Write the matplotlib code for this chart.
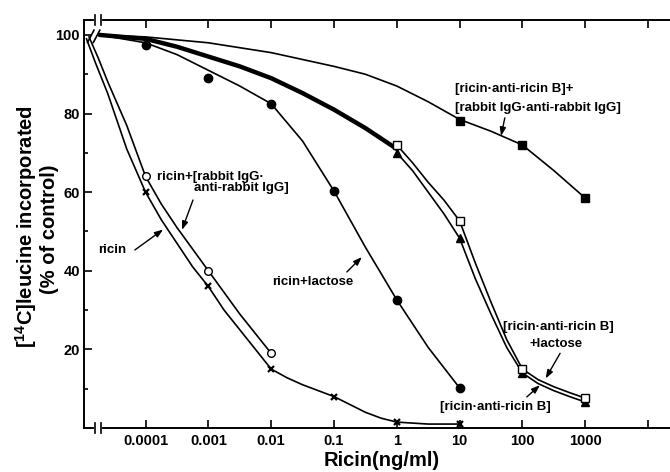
import numpy as np
import matplotlib
matplotlib.use("Agg")
import matplotlib.pyplot as plt

plt.rcParams['font.family'] = ['Liberation Sans', 'DejaVu Sans']
plt.rcParams['font.weight'] = 'bold'
plt.rcParams['mathtext.fontset'] = 'custom'
plt.rcParams['mathtext.bf'] = 'Liberation Sans:bold'
plt.rcParams['mathtext.rm'] = 'Liberation Sans:bold'

# measured points (ng/ml, % of control)
ricin_conc = [1e-4, 1e-3, 1e-2, 1e-1, 1, 10]
ricin_pct = [60, 36, 15, 8, 1.5, 1]
rabbit_conc = [1e-4, 1e-3, 1e-2]
rabbit_pct = [64, 40, 19]
lactose_conc = [1e-4, 1e-3, 1e-2, 1e-1, 1, 10]
lactose_pct = [97.5, 89, 82.5, 60.3, 32.6, 10.2]
arb_conc = [1, 10, 100, 1000]
arb_pct = [70, 48.3, 14, 6.6]          # [ricin-anti-ricin B]
arb_lac_pct = [72, 52.7, 15, 7.6]      # [ricin-anti-ricin B] + lactose
arb_rab_conc = [10, 100, 1000]
arb_rab_pct = [78, 72, 58.5]           # [ricin-anti-ricin B] + [rabbit IgG-anti-rabbit IgG]

# hand-drawn fitted curves (log10 ng/ml, %)
ricin_curve_x = [-4.94, -4.8, -4.6, -4.45, -4.3, -4.15, -4.0, -3.75, -3.5, -3.25, -3.0, -2.75, -2.5,
                 -2.25, -2.0, -1.75, -1.5, -1.25, -1.0, -0.75, -0.5, -0.25, 0.0, 0.5, 1.0]
ricin_curve_y = [99, 93, 85, 78, 71, 65.5, 60, 53, 47, 41, 36, 30, 25,
                 20, 15, 12.8, 11, 9.5, 8, 6, 4, 2.5, 1.5, 1, 1]
rabbit_curve_x = [-4.9, -4.75, -4.6, -4.45, -4.3, -4.15, -4.0, -3.75, -3.5, -3.25, -3.0, -2.75,
                  -2.5, -2.25, -2.0]
rabbit_curve_y = [99.5, 94, 88, 82.5, 77, 70.5, 64, 57, 51, 45.5, 40, 34.5, 29, 24, 19]
lactose_curve_x = [-4.73, -4.0, -3.5, -3.0, -2.5, -2.0, -1.5, -1.0, -0.5, 0.0, 0.5, 1.0]
lactose_curve_y = [100, 98, 95, 91, 87, 82.5, 73, 60.3, 46, 32.6, 20.5, 10.2]
shared_curve_x = [-4.73, -4.0, -3.5, -3.0, -2.5, -2.0, -1.5, -1.0, -0.5, 0.0]
shared_curve_y = [100, 99, 97, 94.5, 92, 89, 85.2, 81, 76.3, 71]
arb_curve_x = [0.0, 0.25, 0.5, 0.75, 1.0, 1.25, 1.5, 1.75, 2.0, 2.25, 2.5, 2.75, 3.0]
arb_curve_y = [70, 65.5, 60, 54.5, 48.3, 38, 29, 20.5, 14, 11.3, 9.5, 8, 6.6]
arb_lac_curve_y = [72, 67.5, 62.5, 58, 52.7, 42, 32, 22.5, 15, 12.3, 10.5, 9, 7.6]
arb_rab_curve_x = [-4.73, -4.0, -3.0, -2.0, -1.0, -0.5, 0.0, 0.5, 1.0, 1.5, 2.0, 2.5, 3.0]
arb_rab_curve_y = [100, 99.5, 98, 95.5, 92, 90, 87, 83, 78.5, 75.5, 72, 65.5, 58.5]

tick_pos = [-4, -3, -2, -1, 0, 1, 2, 3, 4]
tick_labels = ['0.0001', '0.001', '0.01', '0.1', '1', '10', '100', '1000', '']

fig = plt.figure(figsize=(6.7, 4.72), dpi=100)
ax = fig.add_axes([84 / 670, 44 / 472, 586 / 670, 408 / 472])

lw = 1.2
ax.plot(ricin_curve_x, ricin_curve_y, color='black', lw=lw)
ax.plot(rabbit_curve_x, rabbit_curve_y, color='black', lw=lw)
ax.plot(lactose_curve_x, lactose_curve_y, color='black', lw=lw)
ax.plot(shared_curve_x, shared_curve_y, color='black', lw=3.2, solid_capstyle='round')
ax.plot(arb_curve_x, arb_curve_y, color='black', lw=lw)
ax.plot(arb_curve_x, arb_lac_curve_y, color='black', lw=lw)
ax.plot(arb_rab_curve_x, arb_rab_curve_y, color='black', lw=lw)

ax.plot(np.log10(ricin_conc), ricin_pct, 'x', color='black', ms=4.5, mew=1.6, zorder=5)
ax.plot(np.log10(rabbit_conc), rabbit_pct, 'o', mfc='white', mec='black', ms=5.5, mew=1.0, zorder=5)
ax.plot(np.log10(lactose_conc), lactose_pct, 'o', color='black', ms=6, zorder=5)
ax.plot(np.log10(arb_conc), arb_pct, '^', color='black', ms=6, zorder=5)
ax.plot(np.log10(arb_conc), arb_lac_pct, 's', mfc='white', mec='black', ms=5.5, mew=1.0, zorder=6)
ax.plot(np.log10(arb_rab_conc), arb_rab_pct, 's', color='black', ms=6, zorder=5)

ax.set_xlim(-4.98, 4.35)
ax.set_ylim(0, 103.8)
ax.set_xticks(tick_pos)
ax.set_xticklabels(tick_labels)
ax.set_yticks([20, 40, 60, 80, 100])
ax.set_yticks([10, 30, 50, 70, 90], minor=True)
ax.tick_params(axis='x', direction='in', length=6, width=1.2, top=True, pad=4, labelsize=10.5)
ax.tick_params(axis='y', direction='in', length=6, width=1.2, pad=3, labelsize=10.5)
ax.tick_params(axis='y', which='minor', direction='in', length=3, width=1.2)
ax.spines['right'].set_visible(False)
for s in ['left', 'bottom', 'top']:
    ax.spines[s].set_linewidth(1.4)

# axis breaks on the top and bottom spines
for yy in (0.0, 1.0):
    ax.plot([0.021, 0.027], [yy, yy], transform=ax.transAxes, color='white', lw=3, clip_on=False, zorder=7)
    for xx in (0.019, 0.029):
        ax.plot([xx, xx], [yy - 0.013, yy + 0.013], transform=ax.transAxes, color='black', lw=1.2,
                clip_on=False, zorder=8)
# break slashes on curves near control
for x0 in (0.006, 0.016):
    ax.plot([x0, x0 + 0.011], [0.945, 0.975], transform=ax.transAxes, color='black', lw=1.2, clip_on=False)

fs = 9.5
ax.text(0.925, 86.3, '[ricin\u00b7anti-ricin B]+', fontsize=fs, va='center', ha='left')
ax.text(0.925, 81.4, '[rabbit IgG\u00b7anti-rabbit IgG]', fontsize=fs, va='center', ha='left')
ax.text(-3.82, 63.9, 'ricin+[rabbit IgG\u00b7', fontsize=fs, va='center', ha='left')
ax.text(-3.23, 61.0, 'anti-rabbit IgG]', fontsize=fs, va='center', ha='left')
ax.text(-4.3, 45.3, 'ricin', fontsize=fs, va='center', ha='right')
ax.text(-1.99, 37.2, 'ricin+lactose', fontsize=fs, va='center', ha='left')
ax.text(1.69, 25.7, '[ricin\u00b7anti-ricin B]', fontsize=fs, va='center', ha='left')
ax.text(2.12, 21.3, '+lactose', fontsize=fs, va='center', ha='left')
ax.text(0.69, 5.3, '[ricin\u00b7anti-ricin B]', fontsize=fs, va='center', ha='left')

arrow = dict(arrowstyle='-|>,head_length=0.5,head_width=0.18', color='black', lw=1.0, shrinkA=0, shrinkB=0)
ax.annotate('', xy=(1.66, 74.3), xytext=(1.72, 78.9), arrowprops=arrow)
ax.annotate('', xy=(-3.42, 50.4), xytext=(-3.245, 58.0), arrowprops=arrow)
ax.annotate('', xy=(-3.72, 50.5), xytext=(-4.17, 45.3), arrowprops=arrow)
ax.annotate('', xy=(-0.556, 43.5), xytext=(-0.795, 39.7), arrowprops=arrow)
ax.annotate('', xy=(2.37, 12.6), xytext=(2.6, 19.0), arrowprops=arrow)
ax.annotate('', xy=(2.28, 10.9), xytext=(2.07, 7.9), arrowprops=arrow)

fig.text(382 / 670, 1 - 460 / 472, 'Ricin(ng/ml)', fontsize=14.5, ha='center', va='center')
fig.text(26 / 670, 0.52, r'[$^{\mathbf{14}}$C]leucine incorporated', fontsize=14.5, rotation=90,
         ha='center', va='center')
fig.text(50 / 670, 0.515, '(% of control)', fontsize=14.5, rotation=90, ha='center', va='center')

fig.savefig('out.png', dpi=100)
